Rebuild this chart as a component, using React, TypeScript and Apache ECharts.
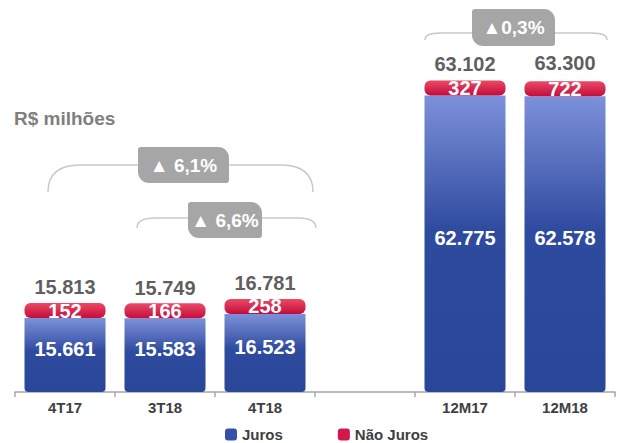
import React, { useEffect, useRef } from "react";
import * as echarts from "echarts";

const categories = ["4T17", "3T18", "4T18", "", "12M17", "12M18"];
const juros = [15661, 15583, 16523, null, 62775, 62578];
const naoJuros = [152, 166, 258, null, 327, 722];
const totals = [15813, 15749, 16781, null, 63102, 63300];
const legendNames = ["Juros", "Não Juros"];
const unitLabel = "R$ milhões";
const variations = ["▲ 6,1%", "▲ 6,6%", "▲0,3%"];

const FONT = "Arial, 'Liberation Sans', Helvetica, sans-serif";

const fmt = (v: any) => {
  if (v === null || v === undefined || v === "-") return "";
  return String(v).replace(/\B(?=(\d{3})+(?!\d))/g, ".");
};

const toData = (arr: (number | null)[]) => arr.map((v) => (v === null ? "-" : v));

function bracket(x1: number, x2: number, y: number, drop: number, r: number) {
  const stroke = { stroke: "#c8c8c8", lineWidth: 1.5, fill: null as any };
  return [
    {
      type: "bezierCurve",
      shape: { x1: x1, y1: y + drop, cpx1: x1, cpy1: y, x2: x1 + r, y2: y },
      style: stroke,
      silent: true,
    },
    {
      type: "line",
      shape: { x1: x1 + r, y1: y, x2: x2 - r, y2: y },
      style: stroke,
      silent: true,
    },
    {
      type: "bezierCurve",
      shape: { x1: x2, y1: y + drop, cpx1: x2, cpy1: y, x2: x2 - r, y2: y },
      style: stroke,
      silent: true,
    },
  ];
}

function badge(x: number, y: number, w: number, h: number, text: string) {
  return [
    {
      type: "rect",
      shape: { x, y, width: w, height: h, r: [3, 11, 3, 11] },
      style: { fill: "#a6a6a6" },
      silent: true,
    },
    {
      type: "text",
      x: x + w / 2,
      y: y + h / 2,
      style: {
        text,
        fill: "#ffffff",
        font: `bold 19px ${FONT}`,
        align: "center",
        verticalAlign: "middle",
      },
      silent: true,
    },
  ];
}

export default function App() {
  const ref = useRef<HTMLDivElement>(null);

  useEffect(() => {
    document.body.style.margin = "0";
    if (!ref.current) return;
    const chart = echarts.init(ref.current, null, { renderer: "svg" });

    const blueGrad = new echarts.graphic.LinearGradient(0, 0, 0, 1, [
      { offset: 0, color: "#7d91da" },
      { offset: 0.45, color: "#2f4b9f" },
      { offset: 1, color: "#2a4698" },
    ]);
    const redGrad = new echarts.graphic.LinearGradient(0, 0, 0, 1, [
      { offset: 0, color: "#ec4a66" },
      { offset: 1, color: "#c20d3b" },
    ]);

    const valueLabel = {
      show: true,
      color: "#ffffff",
      fontSize: 20,
      fontWeight: "bold" as const,
      fontFamily: FONT,
      formatter: (p: any) => fmt(p.value),
    };

    chart.setOption({
      animation: false,
      textStyle: { fontFamily: FONT },
      grid: { left: 15, right: 7, top: 14, bottom: 51, containLabel: false },
      legend: {
        data: [
          { name: legendNames[0], itemStyle: { color: "#3550a8" } },
          { name: legendNames[1], itemStyle: { color: "#d3174a" } },
        ],
        icon: "roundRect",
        itemWidth: 12,
        itemHeight: 12,
        left: 220,
        top: 422,
        padding: 5,
        itemGap: 55,
        selectedMode: false,
        textStyle: { fontSize: 15, fontWeight: "bold", color: "#404040", fontFamily: FONT },
      },
      xAxis: {
        type: "category",
        data: categories,
        axisLine: { lineStyle: { color: "#a6a6a6", width: 1.5 } },
        axisTick: { show: true, length: 5, lineStyle: { color: "#a6a6a6", width: 1.5 } },
        axisLabel: { fontSize: 15, fontWeight: "bold", color: "#404040", margin: 8, fontFamily: FONT },
      },
      yAxis: { type: "value", min: 0, max: 80000, show: false, splitLine: { show: false } },
      series: [
        {
          name: legendNames[0],
          type: "bar",
          stack: "total",
          barWidth: 81,
          data: toData(juros),
          itemStyle: { color: blueGrad, borderRadius: [0, 0, 4, 4] },
          label: { ...valueLabel, position: "inside", offset: [0, -6] },
        },
        {
          name: legendNames[1],
          type: "bar",
          stack: "total",
          barWidth: 81,
          barMinHeight: 15,
          data: toData(naoJuros),
          itemStyle: { color: redGrad, borderRadius: 6 },
          label: { ...valueLabel, position: "inside" },
        },
        {
          name: "Total",
          type: "scatter",
          data: toData(totals),
          symbol: "circle",
          symbolSize: 2,
          silent: true,
          itemStyle: { color: "rgba(0,0,0,0)" },
          label: {
            show: true,
            position: "top",
            distance: 19,
            color: "#333333",
            fontSize: 20,
            fontWeight: "bold",
            fontFamily: FONT,
            formatter: (p: any) => fmt(p.value),
          },
        },
      ],
      graphic: [
        {
          type: "text",
          x: 14,
          y: 118,
          style: {
            text: unitLabel,
            fill: "#7f7f7f",
            font: `bold 19px ${FONT}`,
            verticalAlign: "middle",
          },
          silent: true,
        },
        ...bracket(48, 313, 165, 27, 32),
        ...badge(138, 147, 91, 36, variations[0]),
        ...bracket(137, 316, 218, 10, 18),
        ...badge(188, 202, 74, 36, variations[1]),
        ...bracket(425, 607, 33, 7, 15),
        ...badge(472, 9, 83, 37, variations[2]),
      ],
    });

    return () => chart.dispose();
  }, []);

  return <div ref={ref} style={{ width: 622, height: 443 }} />;
}
